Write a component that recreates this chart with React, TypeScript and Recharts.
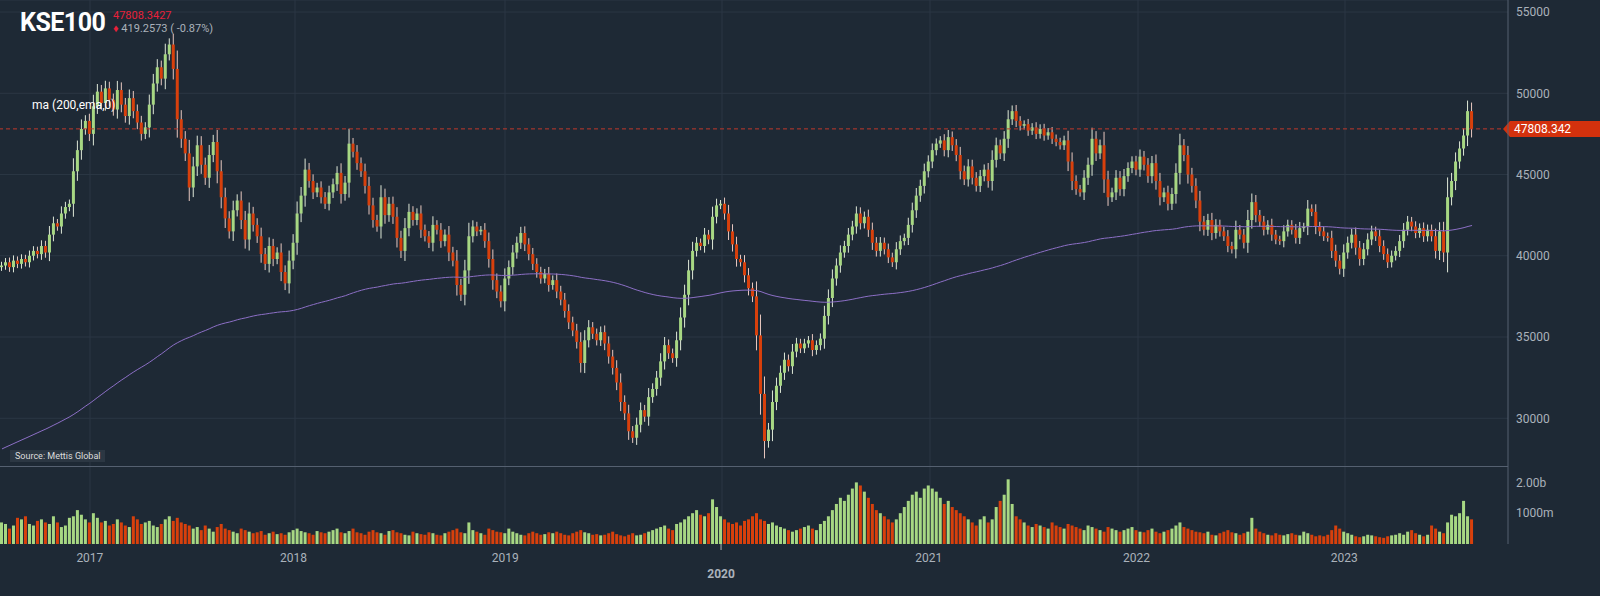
import { ComposedChart, BarChart, Bar, Line, XAxis, YAxis, CartesianGrid, ReferenceLine } from "recharts";

// weekly closes, mid-Aug 2016 -> Aug 2023
const closes = [
  39400,39600,39300,39700,39500,39800,39600,40000,40300,40100,
  40600,40200,41300,42000,41800,42600,43000,43200,45200,46500,
  47800,48300,47500,49200,50100,49400,50300,49600,49000,50200,
  49300,48600,49700,48900,48200,47500,47900,49300,50600,51600,
  50900,52400,53000,51500,48400,47200,46300,44200,45500,46800,
  45600,44800,46200,47000,45200,43600,42300,41500,42800,43400,
  42200,41000,42600,41900,41200,40100,39500,40600,39800,40200,
  39000,38300,39700,40800,42600,43700,45300,44600,43900,44200,
  43600,43200,43900,44400,45100,43800,44500,46900,46400,45700,
  45200,44300,43100,42200,41800,43600,42500,43200,42400,41100,
  40300,41700,42700,42200,42600,41600,41200,40800,41900,41600,
  40900,41300,40200,39700,38200,37600,39100,41200,41800,41500,
  41600,40900,39800,38500,37800,37200,38600,39300,40200,40800,
  41400,40700,40100,39500,39000,38600,38900,38200,38500,37800,
  37300,36600,35900,35400,34700,33400,34800,35600,35200,34800,
  35300,34600,33800,33100,32200,31000,30300,29200,28800,29600,
  30500,30100,31300,31800,32500,33500,34500,34000,33700,34800,
  36200,37600,39100,40300,40800,40600,41300,41000,42400,43100,
  43200,42600,41500,40700,39800,39600,38800,38000,37500,35100,
  31500,28600,29300,31000,32000,32800,33600,33200,34100,34600,
  34300,34600,34800,34200,34500,34900,36300,37400,38600,39400,
  40200,40600,41300,41800,42600,42000,42400,41600,40800,40300,
  40800,40400,39900,39600,40400,40900,41100,41900,42800,43700,
  44300,45200,45800,46500,46900,47100,46500,47300,46800,46200,
  45200,44700,45500,44800,44300,44900,45300,44600,45900,46800,
  46300,47200,48400,48900,48300,48000,48100,47700,47900,47500,
  47800,47400,47600,47200,47000,46800,47100,45800,44600,44100,
  43900,44800,45600,47200,46300,46800,44700,43600,43900,44800,
  44100,44900,45400,45800,45300,46100,45600,44900,45700,44600,
  43600,43900,43200,43800,45100,46800,46200,45000,44300,43400,
  42100,41600,42200,41400,41900,41500,41200,40600,40400,41600,
  41300,40800,42200,43300,42500,42100,41600,41900,41300,41000,
  40900,41500,41900,41600,41100,41700,41800,42900,42700,41800,
  41500,41200,41100,40300,39700,39200,40200,40800,41300,40500,
  39800,40400,41000,41500,41200,40600,40100,39600,40000,40300,
  40900,41600,42100,41800,41400,41700,41200,41600,41200,40300,
  41500,40200,43600,44600,45800,46600,47400,48900,47808.3427,
];

// weekly volume, millions
const volumes = [
  700,650,500,600,850,800,900,650,600,750,
  800,700,650,900,700,550,600,850,900,1100,
  950,800,700,1000,850,700,750,600,650,800,
  700,600,550,900,800,650,700,750,600,550,
  650,800,900,750,850,700,650,600,500,550,
  450,600,500,400,550,650,500,450,400,350,
  500,450,400,350,380,420,300,350,400,320,
  350,300,380,450,500,420,380,350,300,420,
  380,350,400,450,500,380,350,420,500,380,
  350,300,400,450,380,350,300,420,450,380,
  350,300,280,400,350,320,300,380,350,300,
  280,350,400,450,500,380,350,700,450,400,
  350,300,500,450,400,380,350,500,400,350,
  300,280,350,400,350,300,320,380,350,400,
  350,300,280,350,400,450,380,350,300,320,
  280,300,350,400,320,280,250,300,350,280,
  300,350,400,450,500,550,600,500,450,650,
  700,800,900,1000,1100,950,900,1000,1450,1200,
  900,800,700,650,700,600,750,800,900,1000,
  800,750,650,700,600,550,500,450,400,450,
  500,550,600,500,450,650,750,900,1100,1300,
  1500,1400,1600,1800,2000,1900,1700,1500,1300,1100,
  1000,900,800,700,800,1000,1200,1400,1600,1700,
  1500,1800,1900,1800,1700,1500,1300,1400,1200,1100,
  1000,900,800,700,600,800,900,700,800,1200,
  1400,1600,2100,1300,900,800,700,600,550,650,
  600,550,500,700,600,550,500,650,600,550,
  500,450,600,550,500,450,400,550,500,450,
  400,450,500,550,450,400,380,450,500,400,
  350,400,450,500,600,700,550,500,450,400,
  380,350,400,300,280,350,400,450,380,350,
  300,350,400,850,500,400,350,300,280,350,
  300,280,320,350,300,280,400,350,300,250,
  280,250,300,450,600,500,400,350,300,250,
  220,250,300,280,250,220,200,250,280,300,
  350,300,400,450,350,300,250,300,600,500,
  400,350,700,950,900,1000,1400,900,800,
];

const yearTicks = [22, 73, 126, 180, 232, 284, 336];
const yearLabels = ["2017", "2018", "2019", "2020", "2021", "2022", "2023"];
const priceTicks = [30000, 35000, 40000, 45000, 50000, 55000];
const lastPrice = 47808.3427;

const UP = "#a7d783";
const DOWN = "#d8400c";
const BG = "#1e2935";
const GRID = "#2b3744";
const AXIS = "#aab2bb";

if (typeof document !== "undefined") {
  for (const el of [document.documentElement, document.body]) {
    el.style.margin = "0";
    el.style.overflow = "hidden";
    el.style.width = "1600px";
    el.style.height = "596px";
  }
}

const data = closes.map((c, i) => {
  const o = i === 0 ? 39300 : closes[i - 1];
  const w = Math.abs(c - o) * 0.3 + 200;
  return { i, o, c, range: [Math.min(o, c) - w, Math.max(o, c) + w], up: c >= o, vol: volumes[i] };
});
let ema = 28000;
data.forEach((d: any) => {
  ema = ema + (d.c - ema) * (2 / 201);
  d.ma = ema;
});

const Candle = (p: any) => {
  const { x, y, width, height, payload } = p;
  const [lo, hi] = payload.range;
  const k = height / (hi - lo);
  const top = y + (hi - Math.max(payload.o, payload.c)) * k;
  const bot = y + (hi - Math.min(payload.o, payload.c)) * k;
  const col = payload.up ? UP : DOWN;
  const cx = x + width / 2;
  return (
    <g>
      <line x1={cx} x2={cx} y1={y} y2={y + height} stroke={payload.up ? "#dfe8d8" : "#e8c8c0"} strokeWidth={1} />
      <rect x={x} y={top} width={width} height={Math.max(1, bot - top)} fill={col} />
    </g>
  );
};

const VolBar = (p: any) => (
  <rect x={p.x} y={p.y} width={p.width} height={p.height} fill={p.payload.up ? UP : DOWN} />
);

const YearTick = (p: any) => {
  const idx = yearTicks.indexOf(p.payload.value);
  const is2020 = yearLabels[idx] === "2020";
  return (
    <g>
      {is2020 && <line x1={p.x} x2={p.x} y1={p.y - 8} y2={p.y - 2} stroke={AXIS} />}
      <text x={p.x} y={is2020 ? p.y + 26 : p.y + 10} fill={AXIS} fontSize={12} textAnchor="middle" fontWeight={is2020 ? 700 : 400}>
        {yearLabels[idx]}
      </text>
    </g>
  );
};

const PriceLabel = (p: any) => {
  const y = p.viewBox.y;
  return (
    <g>
      <path d={`M1503 ${y} L1510 ${y - 8} L1600 ${y - 8} L1600 ${y + 8} L1510 ${y + 8} Z`} fill="#d3310d" />
      <text x={1514} y={y + 4} fill="#fff" fontSize={12}>47808.342</text>
    </g>
  );
};

export default function App() {
  return (
    <div style={{ position: "absolute", left: 0, top: 0, width: 1600, height: 596, overflow: "hidden", background: BG, fontFamily: "Roboto, sans-serif" }}>
      <ComposedChart width={1600} height={467} data={data} margin={{ top: 0, right: 0, left: 0, bottom: 0 }} barCategoryGap={1}>
        <CartesianGrid stroke={GRID} verticalPoints={[90, 295, 505, 722, 930, 1138, 1345]} />
        <XAxis dataKey="i" type="number" domain={[-0.5, 377]} hide />
        <YAxis orientation="right" width={92} domain={[27000, 55740]} ticks={priceTicks} tick={{ fill: AXIS, fontSize: 12, textAnchor: "start" }} tickLine={false} axisLine={{ stroke: "#556070" }} allowDataOverflow />
        <Line dataKey="ma" stroke="#8c6fc6" dot={false} activeDot={false} strokeWidth={1} isAnimationActive={false} />
        <Bar dataKey="range" shape={<Candle />} isAnimationActive={false} barSize={3} />
        <ReferenceLine y={lastPrice} stroke="#c0392b" strokeDasharray="4 3" label={<PriceLabel />} />
      </ComposedChart>
      <div style={{ position: "absolute", left: 0, top: 466, width: 1508, height: 1, background: "#556070" }} />
      <BarChart width={1600} height={129} data={data} margin={{ top: 0, right: 0, left: 0, bottom: 0 }} barCategoryGap={1}>
        <CartesianGrid stroke={GRID} horizontal={false} verticalPoints={[90, 295, 505, 722, 930, 1138, 1345]} />
        <XAxis dataKey="i" type="number" domain={[-0.5, 377]} ticks={yearTicks} tick={<YearTick />} tickLine={false} axisLine={false} height={52} />
        <YAxis orientation="right" width={92} domain={[0, 2500]} ticks={[1000, 2000]} tickFormatter={(v: number) => (v === 2000 ? "2.00b" : "1000m")} tick={{ fill: AXIS, fontSize: 12, textAnchor: "start" }} tickLine={false} axisLine={{ stroke: "#556070" }} />
        <Bar dataKey="vol" shape={<VolBar />} isAnimationActive={false} barSize={3} />
      </BarChart>
      <div style={{ position: "absolute", left: 20, top: 8, color: "#fff", fontSize: 25, fontWeight: 700, letterSpacing: -0.5 }}>KSE100</div>
      <div style={{ position: "absolute", left: 113, top: 9, color: "#e8213a", fontSize: 11 }}>47808.3427</div>
      <div style={{ position: "absolute", left: 113, top: 22, color: "#aab2bb", fontSize: 11 }}>
        <span style={{ color: "#e8213a" }}>♦</span> 419.2573 ( -0.87%)
      </div>
      <div style={{ position: "absolute", left: 32, top: 98, color: "#fff", fontSize: 12 }}>ma (200,ema,0)</div>
      <div style={{ position: "absolute", left: 10, top: 450, color: "#ddd", fontSize: 9, background: "#2c3743", padding: "1px 5px" }}>Source: Mettis Global</div>
    </div>
  );
}
